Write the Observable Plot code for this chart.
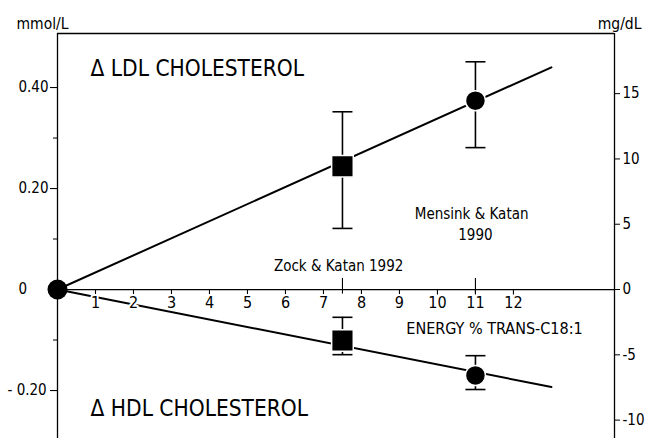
<!DOCTYPE html>
<html><head><meta charset="utf-8">
<script src="https://cdn.jsdelivr.net/npm/d3@7"></script>
<script src="https://cdn.jsdelivr.net/npm/@observablehq/plot@0.6"></script>
<style>
body{margin:0;background:#fff}
svg{font-family:"DejaVu Sans Condensed","DejaVu Sans",sans-serif;font-stretch:condensed}
</style>
</head><body><div id="chart"></div>
<script>
// conversion factor mmol/L -> mg/dL (cholesterol)
const MG = 38.67;
// studies (x = energy % trans-C18:1)
const studies = ["Zock & Katan 1992", "Mensink & Katan 1990"];
const studyX = [7.5, 11];
const studySymbol = ["square", "circle"];
// LDL change (mmol/L)
const ldlMean = [0.244, 0.374];
const ldlLo = [0.121, 0.281];
const ldlHi = [0.352, 0.451];
// HDL change (mmol/L)
const hdlMean = [-0.101, -0.170];
const hdlLo = [-0.129, -0.198];
const hdlHi = [-0.055, -0.131];
// regression lines through origin
const lineX = [0, 13];
const ldlLine = [0, 0.440];
const hdlLine = [0, -0.193];
// axes
const xTicks = [1,2,3,4,5,6,7,8,9,10,11,12];
const xMajor = [7.5, 11];
const yMajor = [0.4, 0.2, 0];
const yMajorLabels = ["0.40", "0.20", "0"];
const yNeg = [-0.2];
const yNegLabels = ["- 0.20"];
const yMinor = [0.3, 0.1, -0.1];
const mgTicks = [15, 10, 5, 0, -5, -10];
const xDomain = [0, 14.66];
const yDomain = [-0.295, 0.507];

const pts = (mean, lo, hi) => studyX.map((x, i) => ({x, y: mean[i], lo: lo[i], hi: hi[i], sym: studySymbol[i]}));
const ldl = pts(ldlMean, ldlLo, ldlHi);
const hdl = pts(hdlMean, hdlLo, hdlHi);
const allPts = ldl.concat(hdl);
const ldlL = lineX.map((x, i) => ({x, y: ldlLine[i]}));
const hdlL = lineX.map((x, i) => ({x, y: hdlLine[i]}));

const cap = {draw(ctx, size){ const h = Math.sqrt(size/Math.PI); ctx.moveTo(-h,0); ctx.lineTo(h,0); }};

const plot = Plot.plot({
  width: 646, height: 438,
  marginLeft: 57, marginRight: 32, marginTop: 33, marginBottom: 0,
  style: {fontSize: "15px", background: "white", color: "black"},
  x: {domain: xDomain, axis: null},
  y: {domain: yDomain, axis: null},
  marks: [
    // frame
    Plot.ruleY([yDomain[1]], {stroke: "black", strokeWidth: 1.3}),
    Plot.ruleX([xDomain[0], xDomain[1]], {stroke: "black", strokeWidth: 1.3}),
    Plot.ruleY([0], {stroke: "black", strokeWidth: 1.3}),
    // left axis ticks
    Plot.axisY({ticks: yMajor.concat(yNeg), tickSize: 7, tickFormat: () => "", label: null, strokeWidth: 1.1}),
    Plot.axisY({ticks: yMinor, tickSize: 4, tickFormat: () => "", label: null, strokeWidth: 1}),
    Plot.text(yMajor, {x: xDomain[0], y: d => d, text: (d, i) => yMajorLabels[i], textAnchor: "start", dx: -39, fontSize: 15}),
    Plot.text(yNeg, {x: xDomain[0], y: d => d, text: (d, i) => yNegLabels[i], textAnchor: "start", dx: -50, fontSize: 15}),
    // right axis (mg/dL)
    Plot.axisY({anchor: "right", ticks: mgTicks.map(v => v / MG), tickSize: 5, tickPadding: 3, tickFormat: d => String(Math.round(d * MG)), label: null, fontSize: 15}),
    // lines
    Plot.line(ldlL, {x: "x", y: "y", stroke: "black", strokeWidth: 2}),
    Plot.line(hdlL, {x: "x", y: "y", stroke: "black", strokeWidth: 2}),
    // x ticks
    Plot.ruleX(xTicks, {x: d => d, y1: 0, y2: -0.011, stroke: "black", strokeWidth: 1.1}),
    Plot.ruleX(xMajor, {x: d => d, y1: 0.022, y2: -0.009, stroke: "black", strokeWidth: 1.1}),
    Plot.text(xTicks, {x: d => d, y: 0, dy: 13, text: d => String(d), fontSize: 16, stroke: "white", strokeWidth: 4, fill: "black", paintOrder: "stroke"}),
    // error bars
    Plot.ruleX(allPts, {x: "x", y1: "lo", y2: "hi", stroke: "black", strokeWidth: 1.6}),
    Plot.dot(allPts, {x: "x", y: "lo", symbol: cap, r: 10, stroke: "black", strokeWidth: 1.6}),
    Plot.dot(allPts, {x: "x", y: "hi", symbol: cap, r: 10, stroke: "black", strokeWidth: 1.6}),
    // markers
    Plot.dot(allPts.filter(d => d.sym === "square"), {x: "x", y: "y", symbol: "square", r: 12.2, fill: "black", stroke: "white", strokeWidth: 1.5}),
    Plot.dot(allPts.filter(d => d.sym === "circle"), {x: "x", y: "y", symbol: "circle", r: 10, fill: "black", stroke: "white", strokeWidth: 1.5}),
    Plot.dot([{x: 0, y: 0}], {x: "x", y: "y", r: 10, fill: "black"}),
    // annotations
    Plot.text(["\u0394 LDL CHOLESTEROL"], {x: 0.87, y: 0.438, textAnchor: "start", fontSize: 22.5}),
    Plot.text(["\u0394 HDL CHOLESTEROL"], {x: 0.87, y: -0.236, textAnchor: "start", fontSize: 22.5}),
    Plot.text(["Mensink & Katan"], {x: 10.9, y: 0.150, fontSize: 15}),
    Plot.text(["1990"], {x: 11.0, y: 0.107, fontSize: 15}),
    Plot.text([studies[0]], {x: 7.4, y: 0.046, fontSize: 15}),
    Plot.text(["ENERGY % TRANS-C18:1"], {x: 9.18, y: -0.077, textAnchor: "start", fontSize: 16}),
    Plot.text(["mmol/L"], {frameAnchor: "top-left", textAnchor: "start", dx: -41, dy: -16, fontSize: 15.5}),
    Plot.text(["mg/dL"], {frameAnchor: "top-right", textAnchor: "end", dx: 27, dy: -16, fontSize: 15.5})
  ]
});
document.getElementById("chart").append(plot);
</script>
</body></html>
